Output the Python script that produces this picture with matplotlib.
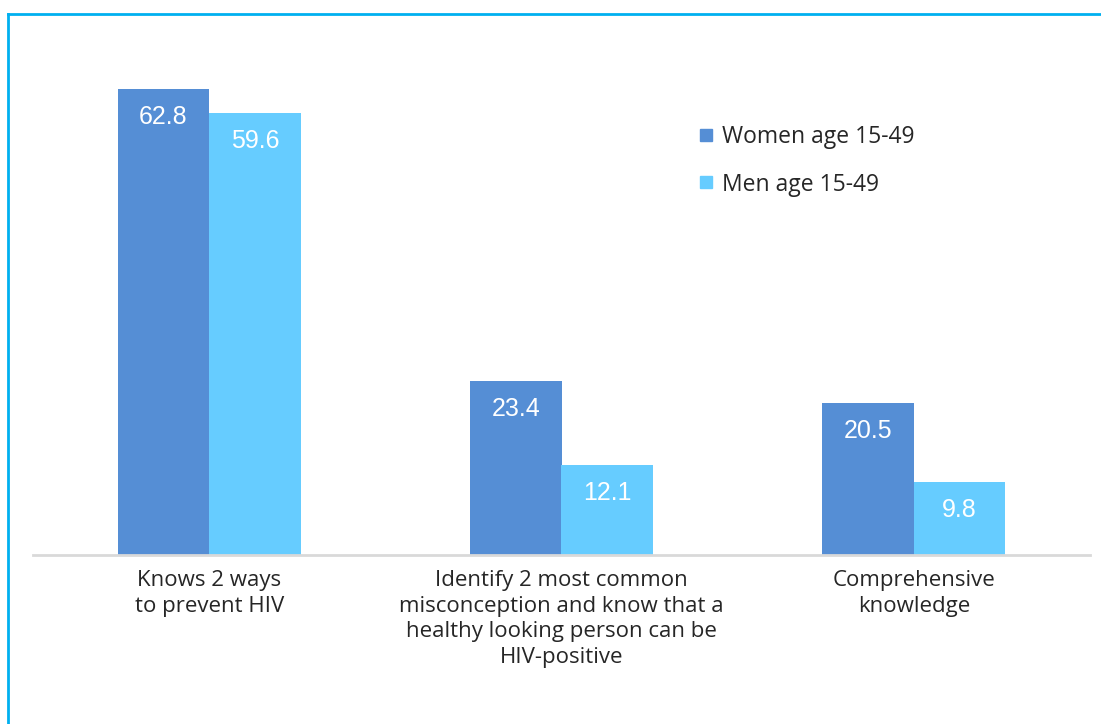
import numpy as np
import matplotlib
matplotlib.use("Agg")
from matplotlib import pyplot as plt
from matplotlib.lines import Line2D

categories = ["Knows 2 ways\nto prevent HIV",
              "Identify 2 most common\nmisconception and know that a\nhealthy looking person can be\nHIV-positive",
              "Comprehensive\nknowledge"]
women = [62.8, 23.4, 20.5]
men = [59.6, 12.1, 9.8]
series_names = ["Women age 15-49", "Men age 15-49"]

dark = "#558ED5"
light = "#66CCFF"
frame_col = "#00B0F0"

fig = plt.figure(figsize=(11.01, 7.24), dpi=100)
W, H = 1101, 724

# axes: x from 33 to 1090 px, baseline at 555 px, top at 35.6 px (ylim 0..70)
ax = fig.add_axes([33 / W, 1 - 555 / H, (1090 - 33) / W, (555 - 35.6) / H])
x = np.arange(len(categories))
bw = 0.26
b1 = ax.bar(x - bw / 2, women, bw, color=dark)
b2 = ax.bar(x + bw / 2, men, bw, color=light)
ax.set_xlim(-0.5, 2.5)
ax.set_ylim(0, 70)

for bars, vals in ((b1, women), (b2, men)):
    for b, v in zip(bars, vals):
        ax.annotate(f"{v}", (b.get_x() + b.get_width() / 2, v), xytext=(0, -28),
                    textcoords="offset pixels",
                    ha="center", va="center", color="white", fontsize=18,
                    family="Liberation Sans")

for s in ["top", "right", "left"]:
    ax.spines[s].set_visible(False)
ax.spines["bottom"].set_color("#D9D9D9")
ax.spines["bottom"].set_linewidth(2)
ax.set_yticks([])
ax.set_xticks(x)
ax.set_xticklabels(categories, fontsize=16, family="Open Sans", color="#262626",
                   linespacing=1.28)
ax.tick_params(axis="x", length=0, pad=11)

# legend
handles = [Line2D([], [], marker="s", ls="", color=c, markersize=9) for c in (dark, light)]
fig.legend(handles, series_names, loc="upper left", bbox_to_anchor=(674 / W, 1 - 104.5 / H),
           frameon=False, prop={"family": "Open Sans", "size": 16.5},
           handletextpad=0.2, labelspacing=1.02, handlelength=1.0)
for t in fig.legends[0].get_texts():
    t.set_color("#262626")

# light blue frame on top and left
fig.add_artist(Line2D([8 / W, 1], [1 - 14 / H, 1 - 14 / H], color=frame_col, lw=2))
fig.add_artist(Line2D([8 / W, 8 / W], [0, 1 - 14 / H], color=frame_col, lw=2))

fig.savefig("out.png", dpi=100)
